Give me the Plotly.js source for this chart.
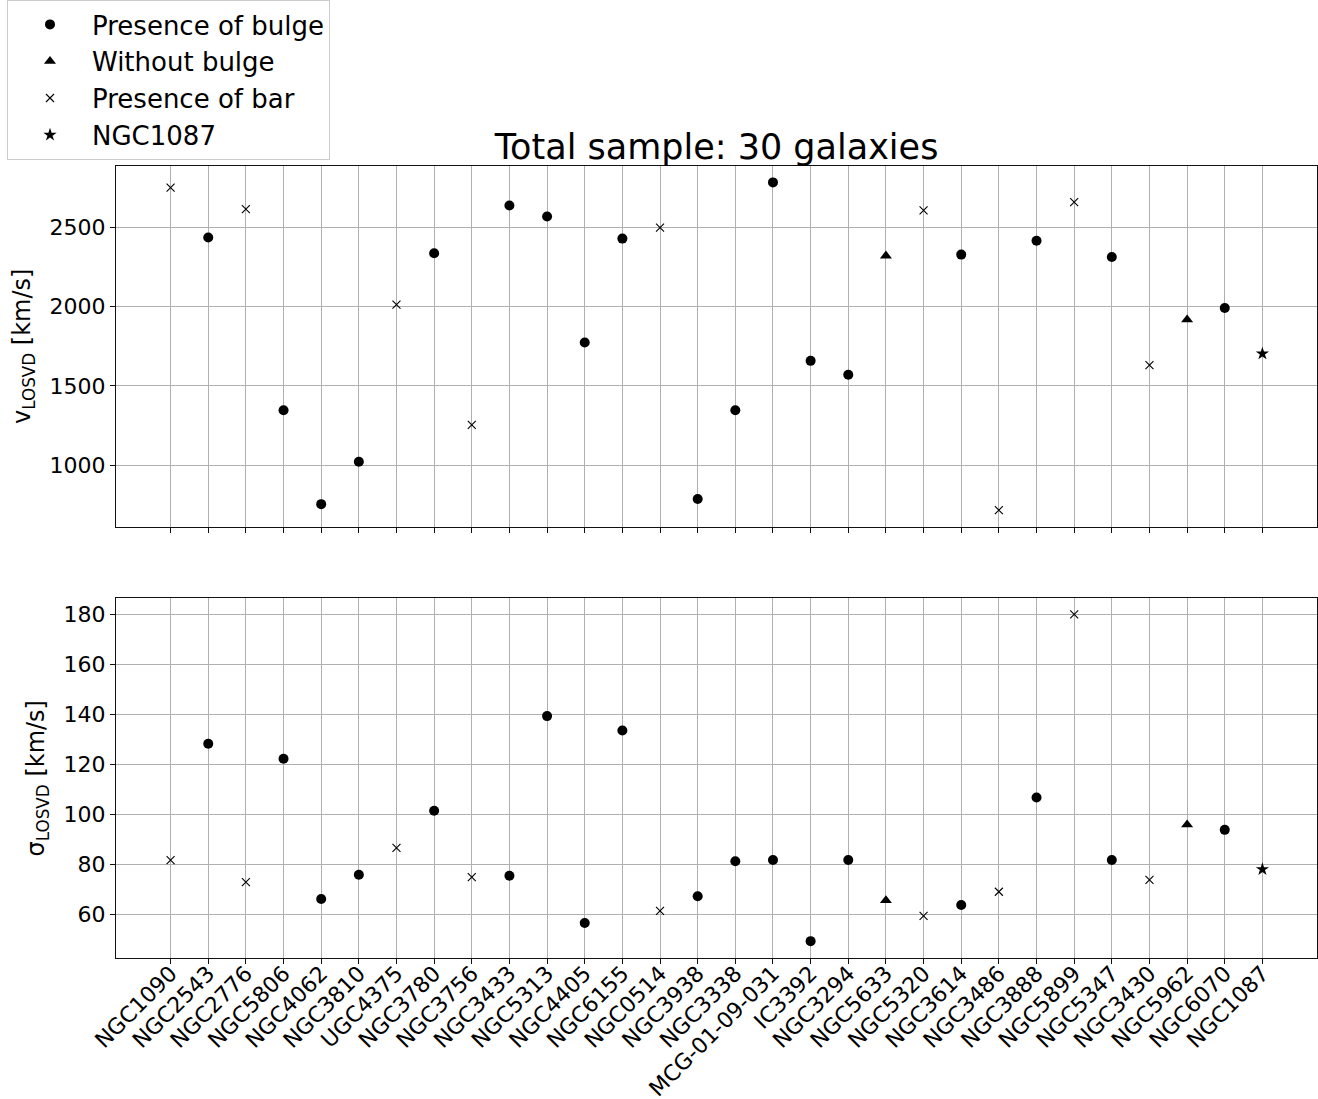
<!DOCTYPE html>
<html>
<head>
<meta charset="utf-8">
<script src="https://cdn.plot.ly/plotly-3.0.1.min.js"></script>
<style>html,body{margin:0;padding:0;background:#fff}#chart{width:1318px;height:1099px}</style>
</head>
<body>
<div id="chart"></div>
<script>
const galaxies = ["NGC1090","NGC2543","NGC2776","NGC5806","NGC4062","NGC3810","UGC4375","NGC3780","NGC3756","NGC3433",
  "NGC5313","NGC4405","NGC6155","NGC0514","NGC3938","NGC3338","MCG-01-09-031","IC3392","NGC3294","NGC5633",
  "NGC5320","NGC3614","NGC3486","NGC3888","NGC5899","NGC5347","NGC3430","NGC5962","NGC6070","NGC1087"];
const vLosvd = [2752,2437,2616,1346,753,1021,2013,2338,1253,2639,
  2570,1774,2430,2500,785,1346,2785,1658,1570,2321,
  2608,2329,715,2416,2660,2314,1631,1918,1992,1703];
const sigmaLosvd = [81.7,128.3,72.9,122.3,66.1,75.8,86.6,101.5,74.9,75.4,
  139.4,56.5,133.6,61.3,67.2,81.2,81.7,49.2,81.7,65.5,
  59.3,63.7,69.0,106.8,180.2,81.7,73.8,95.9,93.8,78.0];
// morphology class per galaxy
const morphology = ["bar","bulge","bar","bulge","bulge","bulge","bar","bulge","bar","bulge",
  "bulge","bulge","bulge","bar","bulge","bulge","bulge","bulge","bulge","nobulge",
  "bar","bulge","bar","bulge","bar","bulge","bar","nobulge","bulge","ngc1087"];
const classNames = ["bulge","nobulge","bar","ngc1087"];
const classLabels = ["Presence of bulge","Without bulge","Presence of bar","NGC1087"];

const markerStyle = {
  bulge:   {symbol:"circle", size:10, color:"#000"},
  nobulge: {symbol:"triangle-up", size:10.5, color:"#000"},
  bar:     {symbol:"x-thin", size:8, color:"#000", line:{color:"#000", width:1.1}},
  ngc1087: {symbol:"star", size:10, color:"#000"}
};

const traces = [];
classNames.forEach((c, k) => {
  const idx = morphology.map((m,i)=> m===c ? i : -1).filter(i=>i>=0);
  const xs = idx.map(i=>galaxies[i]);
  traces.push({type:"scatter", mode:"markers", x:xs, y:idx.map(i=>vLosvd[i]),
    xaxis:"x", yaxis:"y", name:classLabels[k], legendgroup:c, showlegend:true,
    marker:markerStyle[c], hoverinfo:"x+y"});
  traces.push({type:"scatter", mode:"markers", x:xs, y:idx.map(i=>sigmaLosvd[i]),
    xaxis:"x2", yaxis:"y2", name:classLabels[k], legendgroup:c, showlegend:false,
    marker:markerStyle[c], hoverinfo:"x+y"});
});

const font = {family:"DejaVu Sans, sans-serif", color:"#000"};
const axisCommon = {
  showline:true, mirror:true, linecolor:"#111", linewidth:1,
  ticks:"outside", ticklen:5, tickwidth:1, tickcolor:"#111",
  showgrid:true, gridcolor:"#b0b0b0", gridwidth:1, zeroline:false,
  tickfont:{family:font.family, size:22, color:"#000"}
};
const xCommon = Object.assign({}, axisCommon, {
  type:"category", categoryorder:"array", categoryarray:galaxies,
  range:[-1.45, 30.45], tickangle:-45
});

const layout = {
  width:1318, height:1099,
  paper_bgcolor:"#fff", plot_bgcolor:"#fff",
  font:font,
  margin:{l:116, r:1, t:165, b:141, pad:0},
  title:{text:"Total sample: 30 galaxies", font:{family:font.family, size:35, color:"#000"},
    x:0.5, xref:"paper", xanchor:"center", y:1-147/1099, yref:"container", yanchor:"middle"},
  xaxis: Object.assign({}, xCommon, {domain:[0,1], anchor:"y", showticklabels:false, matches:"x2"}),
  xaxis2: Object.assign({}, xCommon, {domain:[0,1], anchor:"y2", ticklabelstandoff:-12}),
  yaxis: Object.assign({}, axisCommon, {domain:[432/793, 1], anchor:"x",
    range:[611.5, 2888.5], tickvals:[1000,1500,2000,2500],
    title:{text:"v<sub>LOSVD</sub> [km/s]", font:{family:font.family, size:24, color:"#000"}, standoff:12}}),
  yaxis2: Object.assign({}, axisCommon, {domain:[0, 360/793], anchor:"x2",
    range:[42.45, 186.55], tickvals:[60,80,100,120,140,160,180],
    title:{text:"σ<sub>LOSVD</sub> [km/s]", font:{family:font.family, size:24, color:"#000"}, standoff:12}}),
  legend:{x:(7-116)/1201, xanchor:"left", y:(958)/793, yanchor:"top",
    bgcolor:"rgba(255,255,255,0.8)", bordercolor:"#cccccc", borderwidth:1,
    font:{family:font.family, size:26, color:"#000"}, itemwidth:74, tracegroupgap:0,
    entrywidth:250, entrywidthmode:"pixels"},
  showlegend:true
};

Plotly.newPlot("chart", traces, layout, {displayModeBar:false, staticPlot:true});
</script>
</body>
</html>
